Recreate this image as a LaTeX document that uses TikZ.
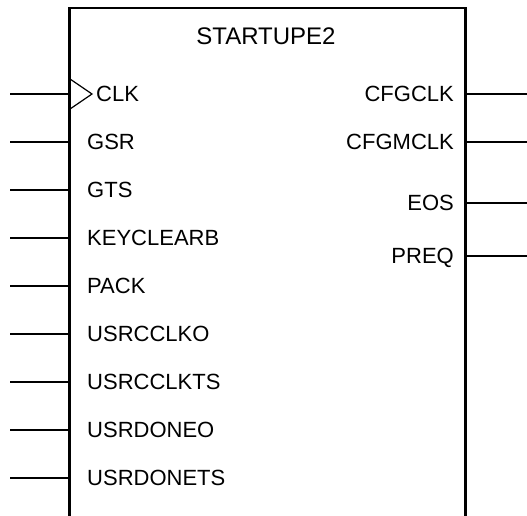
\documentclass[tikz,border=0pt]{standalone}
\usepackage{fontspec}
\setmainfont{Liberation Sans}
\begin{document}
\begin{tikzpicture}[x=1pt,y=-1pt,
  lbl/.style={inner sep=0pt, text height=15.75pt, text depth=0pt, font=\fontsize{22}{26}\selectfont},
  ttl/.style={inner sep=0pt, text height=17.2pt, text depth=0pt, font=\fontsize{24}{28}\selectfont},
  pin/.style={line width=1.2pt},
  body/.style={line width=2.6pt}]
\useasboundingbox (0,0) rectangle (527,516);
% body (open at bottom)
\coordinate (bl) at (69.3,516);
\coordinate (tl) at (69.3,8);
\coordinate (tr) at (465.3,8);
\coordinate (br) at (465.3,516);
\draw[body,line join=miter] (bl) -- (tl) -- (tr) -- (br);
\node[ttl] (title) at (266,36) {STARTUPE2};
% clock marker
\coordinate (ck1) at (69.3,78.5);
\coordinate (ck2) at (92,94);
\coordinate (ck3) at (69.3,109.5);
\draw[pin,line join=miter] (ck1) -- (ck2) -- (ck3);
% left pins
\foreach \name/\lab/\y/\tx in {clk/CLK/94/96, gsr/GSR/142/87, gts/GTS/190/87,
  key/KEYCLEARB/238/87, pack/PACK/286/87, uco/USRCCLKO/334/87,
  ucts/USRCCLKTS/382/87, udo/USRDONEO/430/87, udts/USRDONETS/478/87}{
  \coordinate (\name-o) at (10,\y);
  \coordinate (\name-i) at (69.3,\y);
  \node[lbl,anchor=west] (\name) at (\tx,\y) {\lab};
  \draw[pin] (\name-o) -- (\name-i);
}
% right pins
\foreach \name/\lab/\y in {cfgclk/CFGCLK/94, cfgmclk/CFGMCLK/142, eos/EOS/203, preq/PREQ/256}{
  \coordinate (\name-i) at (465.3,\y);
  \coordinate (\name-o) at (527,\y);
  \node[lbl,anchor=east] (\name) at (454,\y) {\lab};
  \draw[pin] (\name-i) -- (\name-o);
}
\end{tikzpicture}
\end{document}
